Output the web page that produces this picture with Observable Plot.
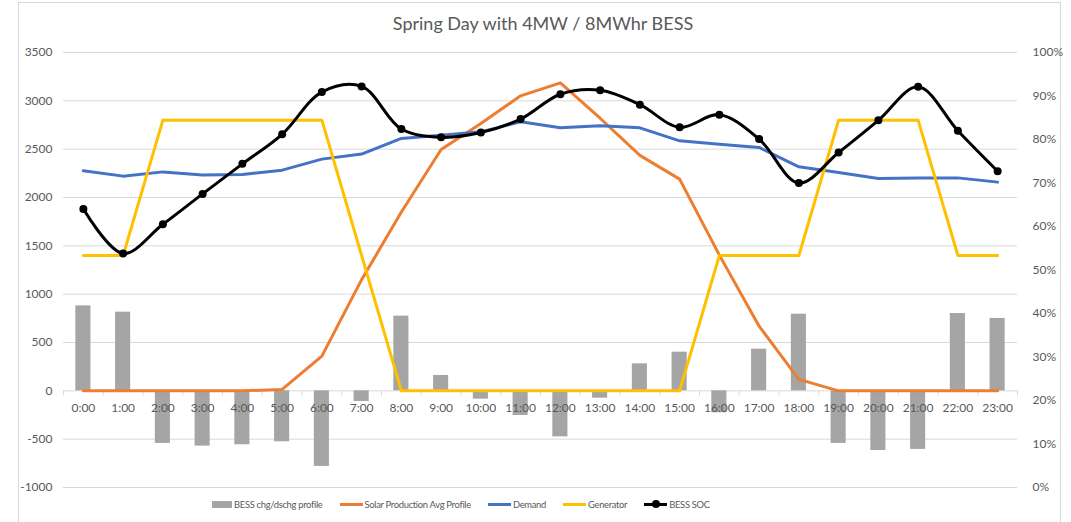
<!DOCTYPE html>
<html><head><meta charset="utf-8">
<script src="https://cdn.jsdelivr.net/npm/d3@7"></script>
<script src="https://cdn.jsdelivr.net/npm/@observablehq/plot@0.6"></script>
<style>
body{margin:0;background:#fff;}
#wrap{position:relative;width:1071px;height:522px;overflow:hidden;font-family:Lato,"Open Sans",sans-serif;color:#595959;}
#frame{position:absolute;left:18px;top:2px;width:1043px;height:560px;border:1px solid #d9d9d9;box-sizing:border-box;}
#chart{position:absolute;left:0;top:0;}
#title{position:absolute;top:12px;left:0;width:1086px;text-align:center;font-size:18px;color:#595959;}
#legend{position:absolute;top:499px;left:212px;display:flex;align-items:center;font-size:9.4px;letter-spacing:-0.3px;color:#595959;white-space:nowrap;}
#legend .item{display:flex;align-items:center;margin-right:17px;}
#legend .sw{display:inline-block;margin-right:2px;position:relative;}
</style></head>
<body>
<div id="wrap">
  <div id="frame"></div>
  <div id="chart"></div>
  <div id="title">Spring Day with 4MW / 8MWhr BESS</div>
  <div id="legend"></div>
</div>
<script>
const hourLabels = ["0:00","1:00","2:00","3:00","4:00","5:00","6:00","7:00","8:00","9:00","10:00","11:00","12:00","13:00","14:00","15:00","16:00","17:00","18:00","19:00","20:00","21:00","22:00","23:00"];
const bess = [879, 814, -544, -572, -558, -527, -782, -110, 773, 159, -86, -255, -476, -76, 279, 400, -227, 431, 793, -544, -617, -606, 800, 749];
const solar = [0, 0, 0, 0, 0, 15, 359, 1150, 1850, 2497, 2766, 3052, 3186, 2820, 2436, 2190, 1404, 669, 118, 0, 0, 0, 0, 0];
const demand = [2276, 2221, 2265, 2234, 2238, 2283, 2397, 2449, 2611, 2645, 2679, 2783, 2721, 2741, 2721, 2586, 2552, 2518, 2317, 2259, 2197, 2203, 2203, 2159];
const generator = [1400, 1400, 2800, 2800, 2800, 2800, 2800, 1400, 0, 0, 0, 0, 0, 0, 0, 0, 1400, 1400, 1400, 2800, 2800, 2800, 1400, 1400];
const socPct = [64.0, 53.8, 60.5, 67.5, 74.4, 81.2, 90.9, 92.2, 82.4, 80.5, 81.6, 84.7, 90.4, 91.3, 88.0, 82.8, 85.7, 80.1, 70.0, 77.0, 84.4, 92.1, 82.0, 72.7];
const leftTicks = [-1000, -500, 0, 500, 1000, 1500, 2000, 2500, 3000, 3500];
const rightTicks = [0, 10, 20, 30, 40, 50, 60, 70, 80, 90, 100];

const names = {bess:"BESS chg/dschg profile", solar:"Solar Production Avg Profile", demand:"Demand", gen:"Generator", soc:"BESS SOC"};
const colors = {bess:"#a5a5a5", solar:"#ed7d31", demand:"#4472c4", gen:"#ffc000", soc:"#000000"};

// secondary axis: 0%..100% maps onto -1000..3500 of primary
const yMin = -1000, yMax = 3500;
const pctToY = p => yMin + p / 100 * (yMax - yMin);
const yToPct = v => Math.round((v - yMin) / (yMax - yMin) * 100);

const rows = hourLabels.map((lab, i) => ({
  h: i, lab, bess: bess[i], solar: solar[i], demand: demand[i], gen: generator[i], soc: pctToY(socPct[i])
}));
const edges = hourLabels.map((_, i) => i - 0.5).concat([hourLabels.length - 0.5]);
const halfBar = 0.19;

const chart = Plot.plot({
  width: 1071,
  height: 522,
  marginLeft: 63,
  marginRight: 54,
  marginTop: 52,
  marginBottom: 35,
  style: {fontFamily: "Lato, 'Open Sans', sans-serif", fontSize: "12px", color: "#595959", background: "transparent"},
  x: {type: "linear", domain: [-0.5, hourLabels.length - 0.5], axis: null},
  y: {domain: [yMin, yMax], axis: null},
  marks: [
    Plot.gridY(leftTicks, {stroke: "#d9d9d9", strokeOpacity: 1}),
    Plot.rectY(rows, {x1: d => d.h - halfBar, x2: d => d.h + halfBar, y: "bess", fill: colors.bess}),
    Plot.ruleX(edges, {x: d => d, y1: 0, y2: 0, insetBottom: -5, stroke: "#d9d9d9"}),
    Plot.line(rows, {x: "h", y: "solar", stroke: colors.solar, strokeWidth: 3, strokeLinejoin: "round", strokeLinecap: "round"}),
    Plot.line(rows, {x: "h", y: "demand", stroke: colors.demand, strokeWidth: 3, strokeLinejoin: "round", strokeLinecap: "round"}),
    Plot.line(rows, {x: "h", y: "gen", stroke: colors.gen, strokeWidth: 3, strokeLinejoin: "round", strokeLinecap: "round"}),
    Plot.line(rows, {x: "h", y: "soc", stroke: colors.soc, strokeWidth: 3, curve: "catmull-rom", strokeLinecap: "round"}),
    Plot.dot(rows, {x: "h", y: "soc", r: 4, fill: colors.soc}),
    Plot.text(rows, {x: "h", y: 0, dy: 17, text: "lab", fill: "#595959", fontSize: 12}),
    Plot.axisY(leftTicks, {anchor: "left", tickSize: 0, tickPadding: 11, tickFormat: d => String(d), fill: "#595959", fontSize: 12}),
    Plot.axisY(rightTicks.map(pctToY), {anchor: "right", tickSize: 0, tickPadding: 15, tickFormat: v => yToPct(v) + "%", fill: "#595959", fontSize: 12})
  ]
});
document.getElementById("chart").appendChild(chart);

// legend
const legend = document.getElementById("legend");
const items = [
  {k: "bess", kind: "rect"},
  {k: "solar", kind: "line"},
  {k: "demand", kind: "line"},
  {k: "gen", kind: "line"},
  {k: "soc", kind: "marker"}
];
for (const it of items) {
  const d = document.createElement("div");
  d.className = "item";
  const sw = document.createElement("span");
  sw.className = "sw";
  if (it.kind === "rect") {
    sw.style.cssText = `width:20px;height:7px;background:${colors[it.k]};`;
  } else {
    sw.style.cssText = `width:23px;height:3px;background:${colors[it.k]};`;
    if (it.kind === "marker") {
      const m = document.createElement("span");
      m.style.cssText = `position:absolute;left:8px;top:-3px;width:8px;height:8px;border-radius:50%;background:${colors[it.k]};`;
      sw.appendChild(m);
    }
  }
  const t = document.createElement("span");
  t.textContent = names[it.k];
  d.appendChild(sw);
  d.appendChild(t);
  legend.appendChild(d);
}
</script>
</body></html>
